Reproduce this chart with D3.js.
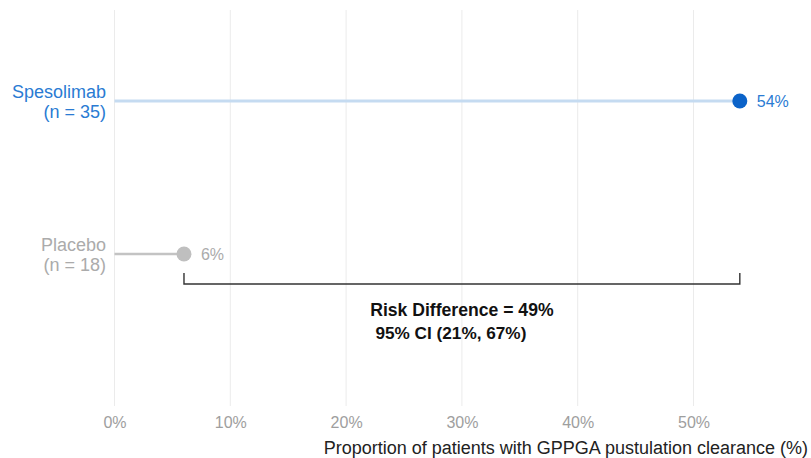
<!DOCTYPE html>
<html>
<head>
<meta charset="utf-8">
<script src="https://cdn.jsdelivr.net/npm/d3@7"></script>
<style>
  html, body { margin: 0; padding: 0; background: #fff; }
  svg { display: block; font-family: "Liberation Sans", Arial, Helvetica, sans-serif; }
</style>
</head>
<body>
<svg id="chart" width="811" height="458"></svg>
<script>
// Treatment arms, drawn top to bottom
const arms = ["Spesolimab", "Placebo"];
const armSizes = [35, 18];
const clearancePct = [54, 6];
const armColors = ["#0b63c9", "#bfbfbf"];
const armStemColors = ["#c5dbf1", "#c3c3c3"];
const armTextColors = ["#2a7bd3", "#ababab"];

// Axis ticks
const xTicks = [0, 10, 20, 30, 40, 50];

// Between-arm comparison
const riskDiffLabel = "Risk Difference = 49%";
const ciLabel = "95% CI (21%, 67%)";
const axisTitle = "Proportion of patients with GPPGA pustulation clearance (%)";

const svg = d3.select("#chart");
const plot = { left: 114.5, top: 10, bottom: 406 };

const x = d3.scaleLinear().domain([0, 50]).range([plot.left, plot.left + 579]);
const y = d3.scalePoint().domain(arms).range([101, 254]);

// Vertical gridlines
svg.append("g")
  .selectAll("line")
  .data(xTicks)
  .join("line")
  .attr("x1", d => x(d)).attr("x2", d => x(d))
  .attr("y1", plot.top).attr("y2", plot.bottom)
  .attr("stroke", "#ebebeb")
  .attr("stroke-width", 1);

// Bottom axis labels
const xAxis = d3.axisBottom(x).tickValues(xTicks).tickFormat(d => d + "%").tickSize(0).tickPadding(0);
const axisG = svg.append("g").attr("transform", `translate(0, 415)`).call(xAxis);
axisG.select(".domain").remove();
axisG.selectAll("text")
  .attr("dy", null)
  .attr("y", 12.7)
  .attr("font-size", 16)
  .attr("font-family", "'Liberation Sans', Arial, sans-serif")
  .attr("fill", "#9e9e9e");

svg.append("text")
  .attr("x", 808).attr("y", 454)
  .attr("text-anchor", "end")
  .attr("font-size", 18)
  .attr("fill", "#222")
  .text(axisTitle);

// Stems and dots
const rows = arms.map((a, i) => ({ arm: a, n: armSizes[i], v: clearancePct[i], i }));

svg.append("g").selectAll("line")
  .data(rows)
  .join("line")
  .attr("x1", x(0)).attr("x2", d => x(d.v))
  .attr("y1", d => y(d.arm)).attr("y2", d => y(d.arm))
  .attr("stroke", d => armStemColors[d.i])
  .attr("stroke-width", d => d.i === 0 ? 3 : 2.5);

svg.append("g").selectAll("circle")
  .data(rows)
  .join("circle")
  .attr("cx", d => x(d.v)).attr("cy", d => y(d.arm))
  .attr("r", 7.5)
  .attr("fill", d => armColors[d.i]);

// Value labels
svg.append("g").selectAll("text")
  .data(rows)
  .join("text")
  .attr("x", d => x(d.v) + 17)
  .attr("y", d => y(d.arm))
  .attr("dy", "0.35em")
  .attr("font-size", 16)
  .attr("fill", d => armTextColors[d.i])
  .text(d => d.v + "%");

// Arm labels on the left, two lines each
const labG = svg.append("g").selectAll("g")
  .data(rows)
  .join("g")
  .attr("text-anchor", "end")
  .attr("font-size", 18)
  .attr("fill", d => armTextColors[d.i]);
labG.append("text").attr("x", 106).attr("y", d => y(d.arm) - 3).text(d => d.arm);
labG.append("text").attr("x", 106).attr("y", d => y(d.arm) + 17).text(d => `(n = ${d.n})`);

// Bracket spanning the two arms
const bx0 = x(clearancePct[1]), bx1 = x(clearancePct[0]);
svg.append("path")
  .attr("d", `M${bx0},273 V284 H${bx1} V273`)
  .attr("fill", "none")
  .attr("stroke", "#333")
  .attr("stroke-width", 1.4);

const mid = (bx0 + bx1) / 2;
svg.append("text")
  .attr("x", mid).attr("y", 316)
  .attr("text-anchor", "middle")
  .attr("font-size", 17.6)
  .attr("font-weight", "bold")
  .attr("fill", "#111")
  .text(riskDiffLabel);
svg.append("text")
  .attr("x", mid - 11).attr("y", 339)
  .attr("text-anchor", "middle")
  .attr("font-size", 17.2)
  .attr("font-weight", "bold")
  .attr("fill", "#111")
  .text(ciLabel);
</script>
</body>
</html>
